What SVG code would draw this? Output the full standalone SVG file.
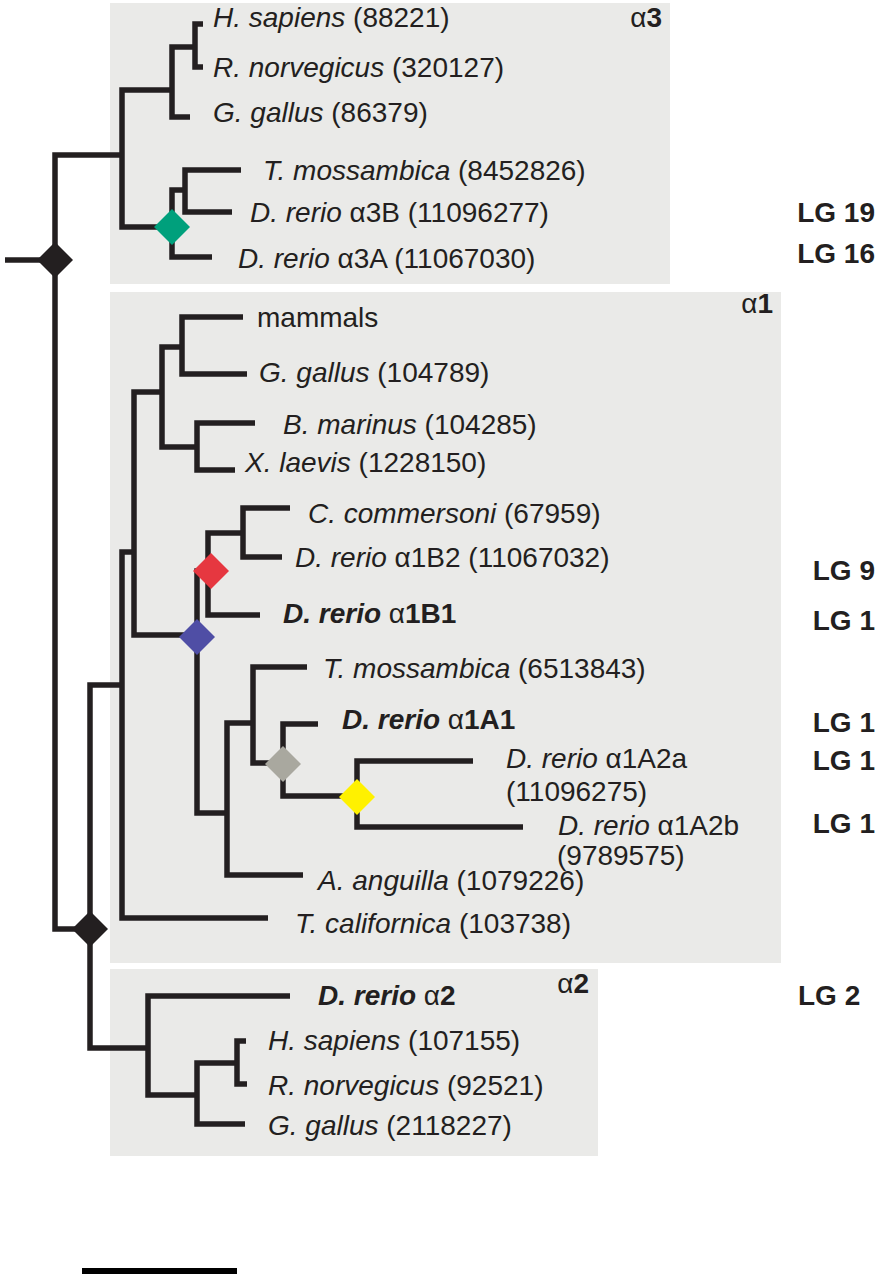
<svg xmlns="http://www.w3.org/2000/svg" width="881" height="1280" viewBox="0 0 881 1280">
<style>
.t{font-family:"Liberation Sans",Arial,Helvetica,sans-serif;font-size:28px;fill:#231f20}
.i{font-style:italic}
.b{font-weight:bold}
.n{font-weight:normal;font-style:normal}
.br{stroke:#231f20;stroke-width:5.5;fill:none;stroke-linejoin:miter;stroke-linecap:butt}
.box{fill:#eaeae8}
</style>
<defs>
<path id="dia" d="M0 -18 L18 0 L0 18 L-18 0Z"/>
</defs>
<rect width="881" height="1280" fill="#ffffff"/>
<g id="boxes">
<rect id="box-a3" class="box" x="110" y="3" width="560" height="281"/>
<rect id="box-a1" class="box" x="110" y="292" width="671" height="671"/>
<rect id="box-a2" class="box" x="110" y="969" width="488" height="187"/>
</g>
<g id="connectors" class="br">
<path d="M5 260 H55"/>
<path d="M122 155 H55 V929 H90"/>
<path d="M172 90 H122 V227 H172"/>
<path d="M195 47 H172 V117 H190"/>
<path d="M203 24 H195 V67 H203"/>
<path d="M185 190 H172 V257 H212"/>
<path d="M241 170 H185 V212 H232"/>
<path d="M122 685 H90 V1048 H148"/>
<path d="M134 552 H122 V918 H268"/>
<path d="M162 392 H134 V635 H197"/>
<path d="M182 347 H162 V447 H197"/>
<path d="M243 317 H182 V374 H247"/>
<path d="M255 423 H197 V470 H235"/>
<path d="M208 571 H197 V813 H227"/>
<path d="M243 533 H208 V615 H260"/>
<path d="M290 508 H243 V557 H282"/>
<path d="M253 723 H227 V875 H303"/>
<path d="M307 667 H253 V763 H283"/>
<path d="M318 724 H283 V796 H357"/>
<path d="M473 761 H357 V827 H523"/>
<path d="M290 996 H148 V1095 H197"/>
<path d="M237 1063 H197 V1124 H245"/>
<path d="M246 1041 H237 V1084 H247"/>
</g>
<g id="duplications">
<use id="node-root" href="#dia" x="55" y="260" fill="#231f20"/>
<use id="node-a1a2" href="#dia" x="90" y="929" fill="#231f20"/>
<use id="node-green" href="#dia" x="172" y="227" fill="#00a07c"/>
<use id="node-red" href="#dia" x="211" y="571" fill="#e63740"/>
<use id="node-blue" href="#dia" x="197" y="637" fill="#4f4ea5"/>
<use id="node-gray" href="#dia" x="283" y="764" fill="#a9a89f"/>
<use id="node-yellow" href="#dia" x="357" y="797" fill="#fff100"/>
</g>
<g id="clade-labels" class="t">
<text id="lab-a3" x="662" y="27" text-anchor="end">α<tspan class="b">3</tspan></text>
<text id="lab-a1" x="773" y="313" text-anchor="end">α<tspan class="b">1</tspan></text>
<text id="lab-a2" x="589" y="993" text-anchor="end">α<tspan class="b">2</tspan></text>
</g>
<g id="leaves" class="t">
<g id="a3-hs"><text x="213" y="27"><tspan class="i">H. sapiens</tspan> (88221)</text></g>
<g id="a3-rn"><text x="213" y="77"><tspan class="i">R. norvegicus</tspan> (320127)</text></g>
<g id="a3-gg"><text x="213" y="122"><tspan class="i">G. gallus</tspan> (86379)</text></g>
<g id="a3-tm"><text x="263" y="180"><tspan class="i">T. mossambica</tspan> (8452826)</text></g>
<g id="a3-drB"><text x="250" y="222"><tspan class="i">D. rerio</tspan> α3B (11096277)</text></g>
<g id="a3-drA"><text x="238" y="268"><tspan class="i">D. rerio</tspan> α3A (11067030)</text></g>
<g id="a1-mam"><text x="257" y="327">mammals</text></g>
<g id="a1-gg"><text x="259" y="382"><tspan class="i">G. gallus</tspan> (104789)</text></g>
<g id="a1-bm"><text x="283" y="434"><tspan class="i">B. marinus</tspan> (104285)</text></g>
<g id="a1-xl"><text x="245" y="472"><tspan class="i">X. laevis</tspan> (1228150)</text></g>
<g id="a1-cc"><text x="308" y="523"><tspan class="i">C. commersoni</tspan> (67959)</text></g>
<g id="a1-drB2"><text x="295" y="567"><tspan class="i">D. rerio</tspan> α1B2 (11067032)</text></g>
<g id="a1-drB1"><text x="283" y="623"><tspan class="i b">D. rerio</tspan> α<tspan class="b">1B1</tspan></text></g>
<g id="a1-tm"><text x="323" y="678"><tspan class="i">T. mossambica</tspan> (6513843)</text></g>
<g id="a1-drA1"><text x="342" y="729"><tspan class="i b">D. rerio</tspan> α<tspan class="b">1A1</tspan></text></g>
<g id="a1-drA2a"><text x="506" y="768"><tspan class="i">D. rerio</tspan> α1A2a</text><text x="506" y="801">(11096275)</text></g>
<g id="a1-drA2b"><text x="558" y="835"><tspan class="i">D. rerio</tspan> α1A2b</text><text x="557" y="865">(9789575)</text></g>
<g id="a1-aa"><text x="318" y="890"><tspan class="i">A. anguilla</tspan> (1079226)</text></g>
<g id="a1-tc"><text x="295" y="933"><tspan class="i">T. californica</tspan> (103738)</text></g>
<g id="a2-dr"><text x="318" y="1005"><tspan class="i b">D. rerio</tspan> α<tspan class="b">2</tspan></text></g>
<g id="a2-hs"><text x="268" y="1050"><tspan class="i">H. sapiens</tspan> (107155)</text></g>
<g id="a2-rn"><text x="268" y="1095"><tspan class="i">R. norvegicus</tspan> (92521)</text></g>
<g id="a2-gg"><text x="268" y="1135"><tspan class="i">G. gallus</tspan> (2118227)</text></g>
</g>
<g id="linkage-groups" class="t b">
<text x="875" y="222" text-anchor="end">LG 19</text>
<text x="875" y="263" text-anchor="end">LG 16</text>
<text x="875" y="580" text-anchor="end">LG 9</text>
<text x="875" y="630" text-anchor="end">LG 1</text>
<text x="875" y="732" text-anchor="end">LG 1</text>
<text x="875" y="770" text-anchor="end">LG 1</text>
<text x="875" y="833" text-anchor="end">LG 1</text>
<text x="798" y="1005">LG 2</text>
</g>
<g id="scale-bar">
<rect x="82" y="1268" width="155" height="6" fill="#000000"/>
</g>
</svg>
